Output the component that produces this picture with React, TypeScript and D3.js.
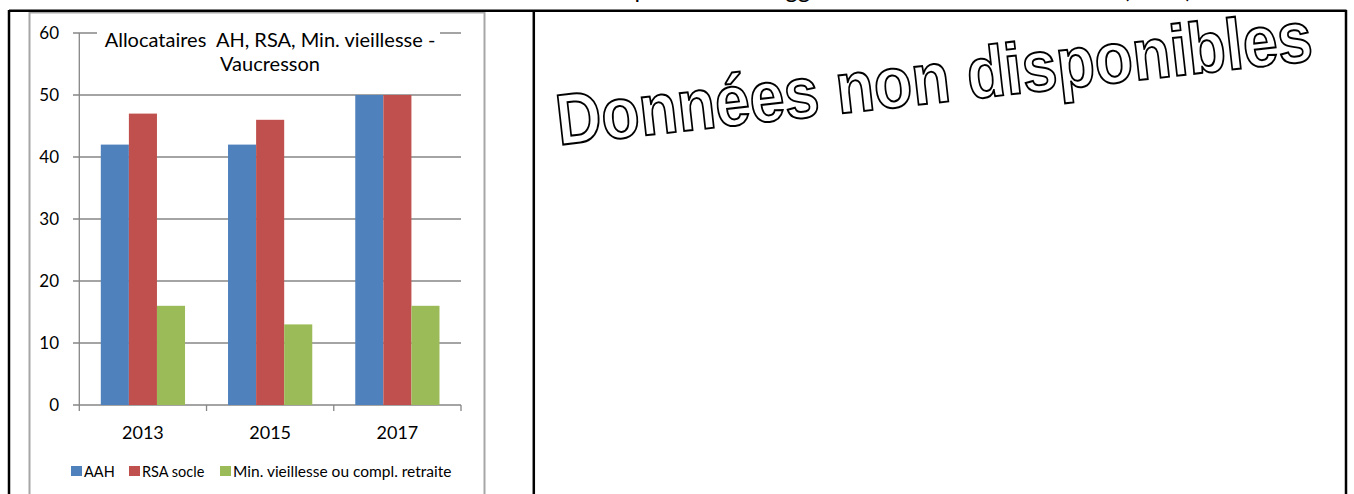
import React from "react";
import * as d3 from "d3";

const years = ["2013", "2015", "2017"];
const seriesNames = ["AAH", "RSA socle", "Min. vieillesse ou compl. retraite"];
const aah = [42, 42, 50];
const rsa = [47, 46, 50];
const minV = [16, 13, 16];
const yTicks = [0, 10, 20, 30, 40, 50, 60];
const colors = ["#4F81BD", "#C0504D", "#9BBB59"];
const chartTitle = ["Allocataires  AH, RSA, Min. vieillesse -", "Vaucresson"];
const noData = "Données non disponibles";
const pageTitle = "Comparaison de l'agglomération et des communes (2017)";

export default function App() {
  const values = [aah, rsa, minV];
  const x0 = d3.scaleBand<string>().domain(years).range([79.3, 461]).padding(0);
  const groupPad = 21.5;
  const x1 = d3
    .scaleBand<string>()
    .domain(seriesNames)
    .range([groupPad, x0.bandwidth() - groupPad])
    .padding(0);
  const y = d3.scaleLinear().domain([0, 60]).range([405, 33]);
  const font = "Lato, 'Open Sans', sans-serif";
  const grid = "#868686";

  const legendItems = [
    { x: 71, label: seriesNames[0], size: 14.5 },
    { x: 129, label: seriesNames[1], size: 14.5 },
    { x: 220, label: seriesNames[2], size: 15.5 },
  ];

  return (
    <svg
      width={1354}
      height={494}
      style={{ position: "absolute", left: 0, top: 0, background: "#fff" }}
    >
      {/* cut-off page title */}
      <text
        x={585}
        y={-2.5}
        fontFamily={font}
        fontSize={24}
        fill="#000"
        textLength={607}
        lengthAdjust="spacing"
      >
        {pageTitle}
      </text>

      {/* chart frame */}
      <rect x={29.5} y={12.5} width={455} height={500} fill="#fff" stroke="#A6A6A6" strokeWidth={2} />

      {/* gridlines */}
      {yTicks.map((t) => (
        <line
          key={"g" + t}
          x1={73}
          x2={461}
          y1={y(t)}
          y2={y(t)}
          stroke={grid}
          strokeWidth={1.3}
        />
      ))}

      {/* bars */}
      {years.map((yr, i) => (
        <g key={yr} transform={`translate(${x0(yr)},0)`}>
          {seriesNames.map((s, j) => (
            <rect
              key={s}
              x={x1(s)}
              y={y(values[j][i])}
              width={x1.bandwidth()}
              height={y(0) - y(values[j][i])}
              fill={colors[j]}
            />
          ))}
        </g>
      ))}

      {/* axes */}
      <line x1={79.3} x2={79.3} y1={y(60)} y2={y(0)} stroke={grid} strokeWidth={1.3} />
      {[...years.map((yr) => x0(yr) as number), 461].map((xv, i) => (
        <line key={"xt" + i} x1={xv} x2={xv} y1={y(0)} y2={y(0) + 6} stroke={grid} strokeWidth={1.3} />
      ))}

      {/* title box */}
      <rect x={97} y={20} width={343} height={56} fill="#fff" />
      {chartTitle.map((line, i) => (
        <text
          key={line}
          x={270}
          y={47 + i * 24}
          textAnchor="middle"
          fontFamily={font}
          fontSize={20}
          fill="#000"
          style={{ whiteSpace: "pre" }}
        >
          {line}
        </text>
      ))}

      {/* y tick labels */}
      {yTicks.map((t) => (
        <text
          key={"yl" + t}
          x={59}
          y={y(t) + 6}
          textAnchor="end"
          fontFamily={font}
          fontSize={17}
          fill="#000"
        >
          {t}
        </text>
      ))}

      {/* x tick labels */}
      {years.map((yr) => (
        <text
          key={"xl" + yr}
          x={(x0(yr) as number) + x0.bandwidth() / 2}
          y={439}
          textAnchor="middle"
          fontFamily={font}
          fontSize={18}
          fill="#000"
        >
          {yr}
        </text>
      ))}

      {/* legend */}
      {legendItems.map((it, j) => (
        <g key={it.label}>
          <rect x={it.x} y={466} width={11} height={10} fill={colors[j]} />
          <text x={it.x + 13} y={476.5} fontFamily={font} fontSize={it.size} fill="#000">
            {it.label}
          </text>
        </g>
      ))}

      {/* table borders */}
      <line x1={9} x2={9} y1={10} y2={494} stroke="#000" strokeWidth={2.5} />
      <line x1={9} x2={1346.5} y1={10.7} y2={10.7} stroke="#000" strokeWidth={2.5} />
      <line x1={533.8} x2={533.8} y1={10} y2={494} stroke="#000" strokeWidth={2.5} />
      <line x1={1346} x2={1346} y1={10} y2={494} stroke="#000" strokeWidth={2.5} />

      {/* no data text */}
      <text
        x={559}
        y={145}
        transform="rotate(-6.4 559 145)"
        fontFamily="'Liberation Sans', Arial, sans-serif"
        fontWeight="bold"
        fontSize={72}
        fill="#fff"
        stroke="#000"
        strokeWidth={2}
        textLength={760}
        lengthAdjust="spacingAndGlyphs"
      >
        {noData}
      </text>
    </svg>
  );
}
